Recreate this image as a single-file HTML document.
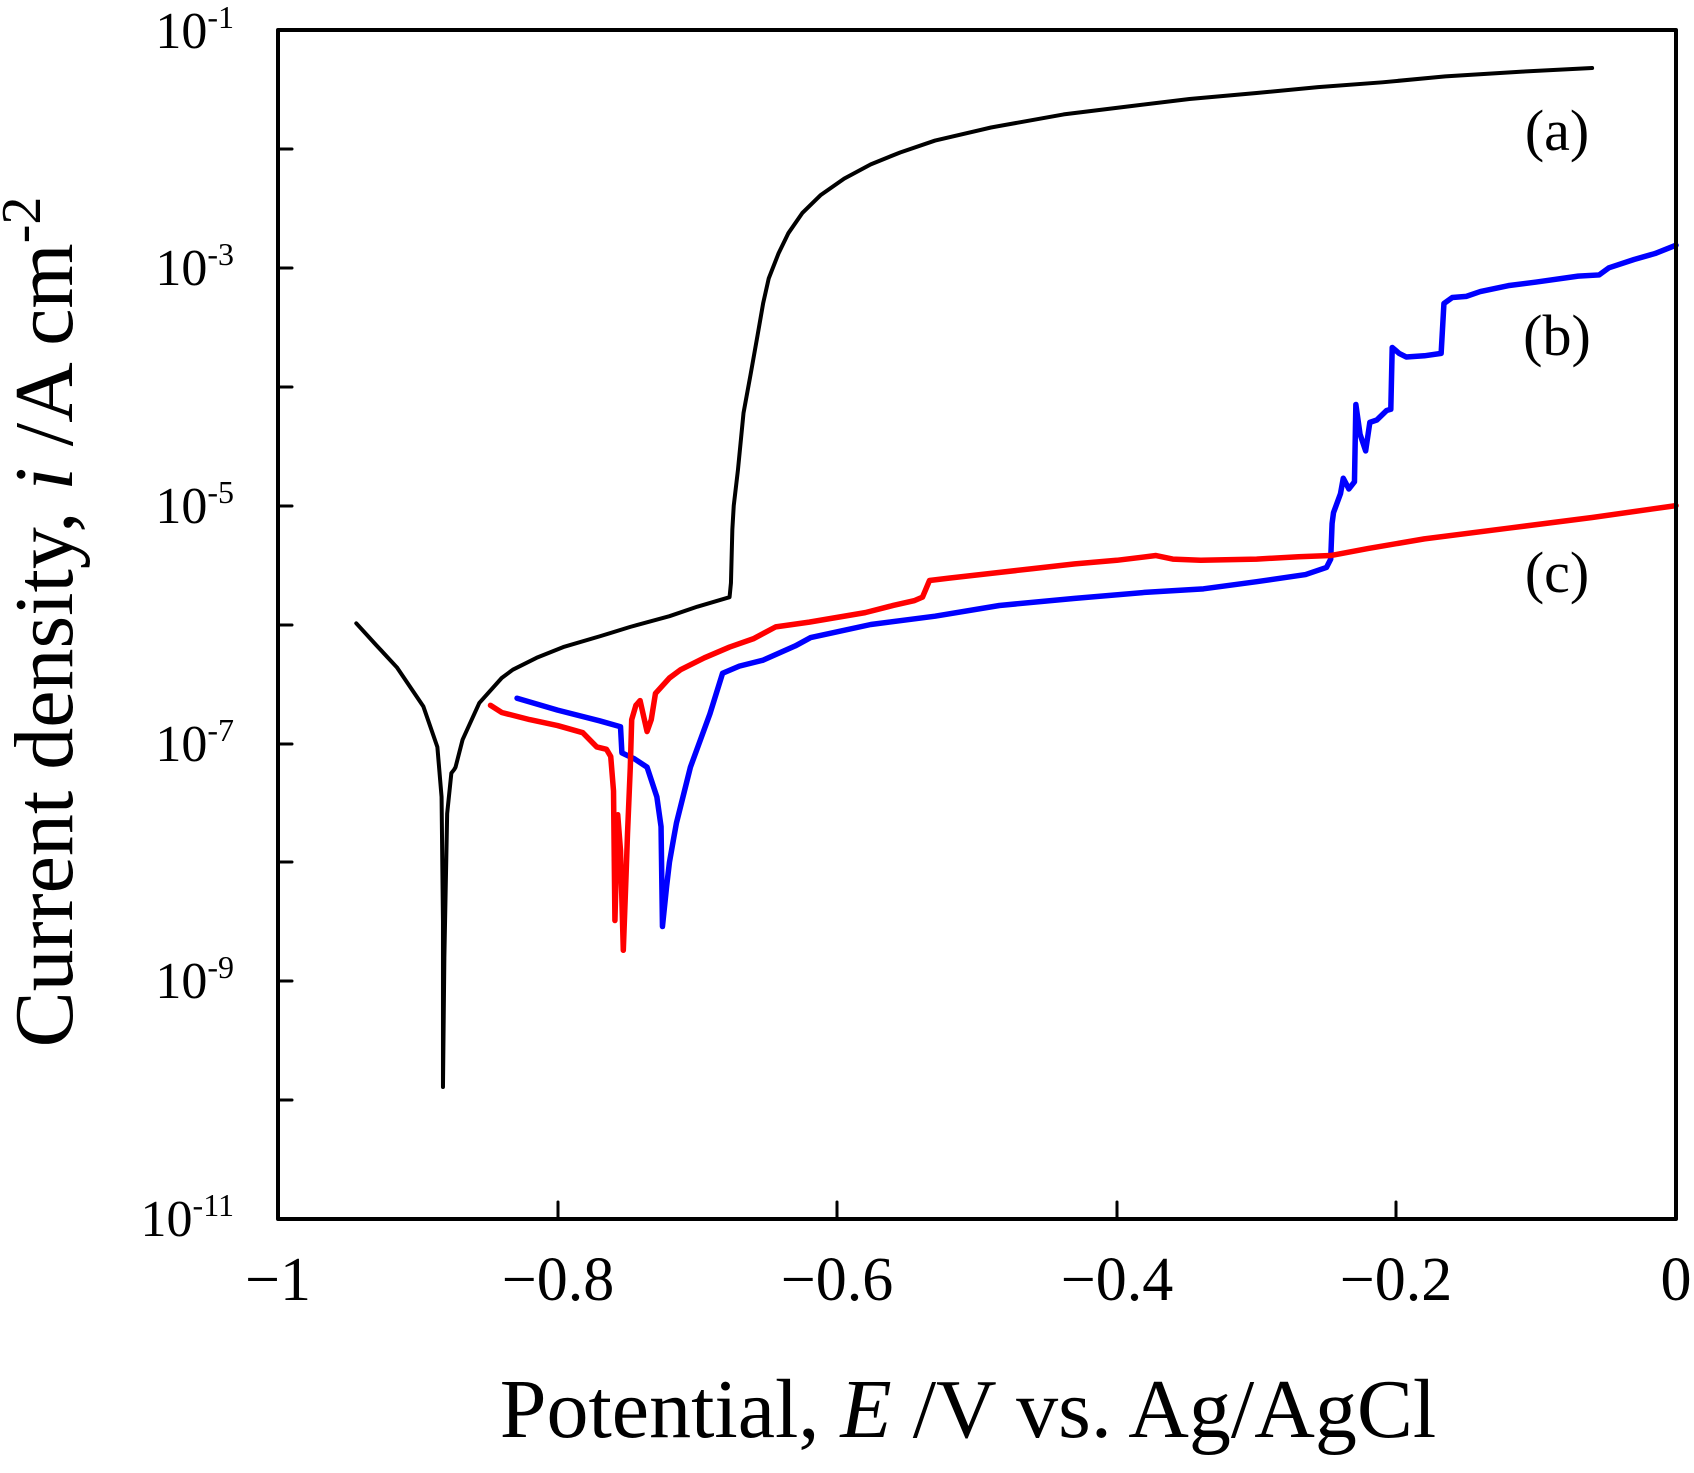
<!DOCTYPE html>
<html><head><meta charset="utf-8"><style>
html,body{margin:0;padding:0;background:#fff;}
svg{display:block;}
text{font-family:"Liberation Serif",serif;fill:#000;}
</style></head><body>
<svg width="1694" height="1473" viewBox="0 0 1694 1473" xmlns="http://www.w3.org/2000/svg">
<g fill="none" stroke-linejoin="round" stroke-linecap="round">
<g transform="translate(1676,-88.9) scale(1.398,-1.189)">
<polyline vector-effect="non-scaling-stroke" stroke="#000" stroke-width="4" points="-944,-599 -930,-617 -915,-636 -896,-669 -886,-703 -883,-745 -882,-850 -882,-989 -881,-880 -879,-759 -876,-725 -874,-722 -873,-720 -868,-697 -856,-666 -840,-645 -832,-638 -815,-628 -796,-619 -770,-610 -748,-602 -720,-593 -700,-585 -677,-577 -676,-565 -675,-520 -674,-500 -671,-470 -667,-422 -662,-390 -657,-357 -653,-330 -649,-309 -642,-288 -635,-271 -625,-254 -612,-239 -595,-225 -576,-213 -555,-203 -530,-193 -490,-182 -438,-171 -390,-164 -348,-158 -300,-153 -256,-148 -210,-144 -165,-139 -110,-135 -60,-132"/>
<polyline vector-effect="non-scaling-stroke" stroke="#0000ff" stroke-width="5.5" points="-829,-662 -800,-672 -770,-681 -755,-686 -754,-708 -745,-713 -736,-720 -729,-745 -726,-770 -725,-854 -722,-820 -720,-800 -717,-780 -715,-767 -705,-720 -691,-675 -682,-641 -670,-635 -653,-630 -630,-618 -619,-611 -576,-600 -530,-593 -484,-584 -430,-578 -380,-573 -338,-570 -300,-564 -265,-558 -250,-552 -247,-545 -246,-515 -245,-506 -240,-490 -238,-477 -234,-486 -230,-480 -229,-415 -226,-440 -222,-454 -219,-430 -214,-428 -207,-420 -204,-419 -203,-367 -198,-372 -193,-375 -180,-374 -168,-372 -166,-330 -160,-325 -150,-324 -140,-320 -120,-315 -100,-312 -70,-307 -55,-306 -48,-300 -30,-293 -15,-288 0,-281"/>
<polyline vector-effect="non-scaling-stroke" stroke="#ff0000" stroke-width="5.5" points="-848,-668 -840,-674 -820,-680 -800,-685 -782,-691 -772,-703 -765,-705 -762,-711 -760,-740 -759,-849 -757,-760 -755,-790 -753,-874 -751,-810 -750,-776 -748,-720 -747,-680 -744,-668 -741,-664 -736,-690 -733,-680 -730,-658 -720,-645 -712,-638 -695,-628 -677,-619 -660,-612 -644,-602 -620,-598 -600,-594 -580,-590 -560,-584 -545,-580 -539,-577 -534,-563 -520,-561 -490,-557 -460,-553 -430,-549 -400,-546 -372,-542 -360,-545 -340,-546 -300,-545 -270,-543 -247,-542 -220,-536 -180,-528 -120,-519 -60,-510 0,-500"/>
</g>
<path stroke="#000" stroke-width="4" d="M278,30 H1676 V1219 H278 Z"/>
<path stroke="#000" stroke-width="3" d="M278,149 h14 M278,268 h14 M278,387 h14 M278,506 h14 M278,625 h14 M278,744 h14 M278,862 h14 M278,981 h14 M278,1100 h14 M558,1219 v-17 M837,1219 v-17 M1117,1219 v-17 M1396,1219 v-17"/>
</g>
<g font-size="52" text-anchor="end">
<text x="234" y="48">10<tspan dy="-20" font-size="32">-1</tspan></text>
<text x="234" y="285">10<tspan dy="-20" font-size="32">-3</tspan></text>
<text x="234" y="523">10<tspan dy="-20" font-size="32">-5</tspan></text>
<text x="234" y="761">10<tspan dy="-20" font-size="32">-7</tspan></text>
<text x="234" y="998">10<tspan dy="-20" font-size="32">-9</tspan></text>
<text x="234" y="1236">10<tspan dy="-20" font-size="32">-11</tspan></text>
</g>
<g font-size="62" text-anchor="middle">
<text x="278" y="1300">−1</text>
<text x="558" y="1300">−0.8</text>
<text x="837" y="1300">−0.6</text>
<text x="1117" y="1300">−0.4</text>
<text x="1396" y="1300">−0.2</text>
<text x="1676" y="1300">0</text>
</g>
<g font-size="58" text-anchor="middle">
<text x="1557" y="150">(a)</text>
<text x="1557" y="355">(b)</text>
<text x="1557" y="592">(c)</text>
</g>
<text x="968" y="1437" font-size="84" text-anchor="middle">Potential, <tspan font-style="italic">E</tspan> /V vs. Ag/AgCl</text>
<text transform="translate(72,622) rotate(-90)" font-size="84" text-anchor="middle">Current density, <tspan font-style="italic">i</tspan> /A cm<tspan dy="-32" font-size="56">-2</tspan></text>
</svg>
</body></html>
